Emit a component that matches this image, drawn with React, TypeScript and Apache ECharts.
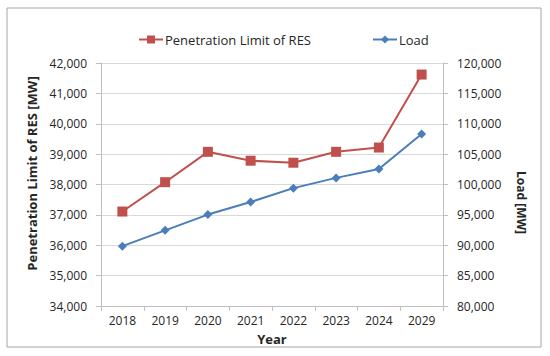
import React, { useEffect, useRef } from "react";
import * as echarts from "echarts";

const years = ["2018", "2019", "2020", "2021", "2022", "2023", "2024", "2029"];
const resLimit = [37110, 38076, 39076, 38783, 38717, 39076, 39217, 41620];
const load = [89850, 92450, 95050, 97120, 99400, 101090, 102550, 108315];

const FONT = "'Open Sans', 'Noto Sans', sans-serif";
const TXT = "#262626";
const RED = "#c0504d";
const BLUE = "#4a7ebb";

export default function App() {
  const ref = useRef<HTMLDivElement>(null);
  useEffect(() => {
    if (!ref.current) return;
    const chart = echarts.init(ref.current, undefined, { renderer: "svg" });
    chart.setOption({
      animation: false,
      backgroundColor: "#ffffff",
      textStyle: { fontFamily: FONT, color: TXT },
      graphic: [
        {
          type: "rect",
          shape: { x: 7, y: 8, width: 534, height: 339 },
          style: { fill: "none", stroke: "#a6a6a6", lineWidth: 1 },
          silent: true,
        },
      ],
      legend: {
        top: 28,
        left: 133,
        itemGap: 61,
        itemWidth: 24,
        itemHeight: 10,
        textStyle: { fontFamily: FONT, fontSize: 13, color: TXT, padding: [0, 0, 0, -3] },
        data: ["Penetration Limit of RES", "Load"],
      },
      grid: { left: 101, right: 107, top: 63, bottom: 50, containLabel: false },
      xAxis: {
        type: "category",
        data: years,
        boundaryGap: true,
        name: "Year",
        nameLocation: "middle",
        nameGap: 26,
        nameTextStyle: { fontFamily: FONT, fontSize: 13, fontWeight: "bold", color: TXT },
        axisLine: { lineStyle: { color: "#bfbfbf" } },
        axisTick: { show: true, alignWithLabel: false, length: 5, lineStyle: { color: "#bfbfbf" } },
        axisLabel: { fontFamily: FONT, fontSize: 12, color: TXT, margin: 8 },
      },
      yAxis: [
        {
          type: "value",
          min: 34000,
          max: 42000,
          interval: 1000,
          position: "left",
          name: "Penetration Limit of RES [MW]",
          nameLocation: "middle",
          nameGap: 60,
          nameTextStyle: {
            fontFamily: FONT,
            fontSize: 13,
            fontWeight: "bold",
            color: TXT,
            padding: [0, 0, 0, 22],
          },
          axisLine: { show: true, lineStyle: { color: "#bfbfbf" } },
          axisTick: { show: true, length: 5, lineStyle: { color: "#bfbfbf" } },
          axisLabel: {
            fontFamily: FONT,
            fontSize: 12,
            color: TXT,
            margin: 14,
            formatter: (v: number) => v.toLocaleString("en-US"),
          },
          splitLine: { show: true, lineStyle: { color: "#d9d9d9" } },
        },
        {
          type: "value",
          min: 80000,
          max: 120000,
          interval: 5000,
          position: "right",
          name: "Load [MW]",
          nameLocation: "middle",
          nameRotate: -90,
          nameGap: 72,
          nameTextStyle: {
            fontFamily: FONT,
            fontSize: 12,
            fontWeight: "bold",
            color: TXT,
            padding: [0, 0, 0, 36],
          },
          axisLine: { show: true, lineStyle: { color: "#bfbfbf" } },
          axisTick: { show: true, length: 5, lineStyle: { color: "#bfbfbf" } },
          axisLabel: {
            fontFamily: FONT,
            fontSize: 12,
            color: TXT,
            margin: 14,
            formatter: (v: number) => v.toLocaleString("en-US"),
          },
          splitLine: { show: false },
        },
      ],
      series: [
        {
          name: "Penetration Limit of RES",
          type: "line",
          yAxisIndex: 0,
          data: resLimit,
          symbol: "rect",
          symbolSize: 10,
          itemStyle: { color: RED },
          lineStyle: { color: RED, width: 2 },
        },
        {
          name: "Load",
          type: "line",
          yAxisIndex: 1,
          data: load,
          symbol: "diamond",
          symbolSize: 9,
          itemStyle: { color: BLUE },
          lineStyle: { color: BLUE, width: 2 },
        },
      ],
    });
    return () => chart.dispose();
  }, []);
  return (
    <div
      ref={ref}
      style={{ position: "absolute", left: 0, top: 0, width: 550, height: 356 }}
    />
  );
}
